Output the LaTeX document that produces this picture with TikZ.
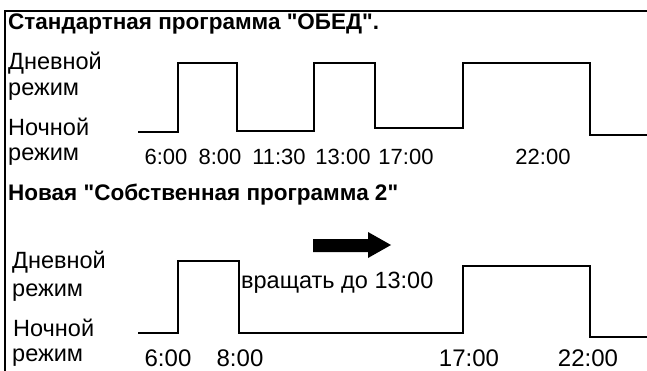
\documentclass[tikz,border=0pt]{standalone}
\usepackage{fontspec}
\setmainfont{Liberation Sans}
\newfontfamily\rufont{Liberation Sans}
\usetikzlibrary{positioning}

\begin{document}
\begin{tikzpicture}[x=1pt,y=-1pt,
  lbl/.style={anchor=west,inner sep=0pt,font=\rufont\fontsize{23.5}{24}\selectfont},
  ttl/.style={anchor=west,inner sep=0pt,font=\rufont\fontsize{22.5}{24}\selectfont\bfseries},
  tm/.style={inner sep=0pt,font=\rufont\fontsize{22}{24}\selectfont},
  tmb/.style={tm,font=\rufont\fontsize{24}{24}\selectfont},
  wave/.style={line width=2.4pt,line join=miter}]
\useasboundingbox (0,0) rectangle (647,371);
% frame
\draw[line width=1.4pt] (5,371) -- (5,11) -- (660,11);
% standard program
\node[ttl] (t1) at (8,24) {Стандартная программа "ОБЕД".};
\node[lbl] (d1) at (8,63) {Дневной};
\node[lbl] (r1) at (8,92) {режим};
\node[lbl] (n1) at (8,127) {Ночной};
\node[lbl] (s1) at (8,157) {режим};
\draw[wave] (138,132) -- (178,132) -- (178,63) -- (237,63) -- (237,131)
  -- (314,131) -- (314,63) -- (375,63) -- (375,128) -- (463,128)
  -- (463,63) -- (590,63) -- (590,135) -- (660,135);
\foreach \t/\x in {6:00/166,8:00/220,11:30/279,13:00/343,17:00/406,22:00/543}
  \node[tm] at (\x,157) {\t};
% own program 2
\node[ttl] (t2) at (8,195) {Новая "Собственная программа 2"};
\node[lbl] (d2) at (12,262) {Дневной};
\node[lbl] (r2) at (12,293) {режим};
\node[lbl] (n2) at (13,328) {Ночной};
\node[lbl] (s2) at (12,358) {режим};
\draw[wave] (138,333) -- (178,333) -- (178,261) -- (239,261) -- (239,333)
  -- (463,333) -- (463,266) -- (590,266) -- (590,337) -- (660,337);
\foreach \t/\x in {6:00/168,8:00/240,17:00/469,22:00/588}
  \node[tmb] at (\x,358) {\t};
\node[lbl] (rot) at (241,283) {вращать до 13:00};
\fill (313,239) -- (368,239) -- (368,232) -- (391,245) -- (368,258)
  -- (368,252) -- (313,252) -- cycle;
\end{tikzpicture}
\end{document}
